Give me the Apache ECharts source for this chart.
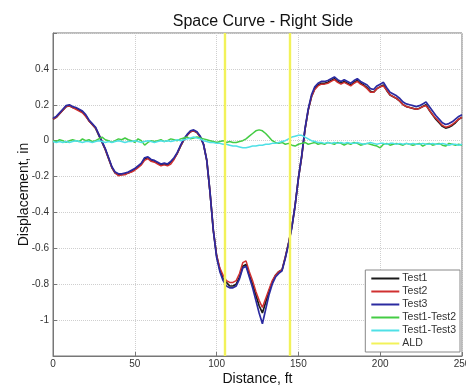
<!DOCTYPE html>
<html><head><meta charset="utf-8">
<script src="https://cdn.jsdelivr.net/npm/echarts@6/dist/echarts.min.js"></script>
<style>html,body{margin:0;padding:0;background:#fff}#c{width:466px;height:385px}</style>
</head><body><div id="c"></div>
<script>
const distance = [0,2,4,6,8,10,12,14,16,18,20,22,24,26,28,30,32,34,36,38,40,42,44,46,48,50,52,54,56,58,60,62,64,66,68,70,72,74,76,78,80,82,84,86,88,90,92,94,96,98,100,102,104,106,108,110,112,114,116,118,120,122,124,126,128,130,132,134,136,138,140,142,144,146,148,150,152,154,156,158,160,162,164,166,168,170,172,174,176,178,180,182,184,186,188,190,192,194,196,198,200,202,204,206,208,210,212,214,216,218,220,222,224,226,228,230,232,234,236,238,240,242,244,246,248,250];

const test1 = [0.12,0.13,0.15,0.17,0.19,0.195,0.185,0.18,0.17,0.16,0.14,0.11,0.09,0.07,0.03,-0.01,-0.05,-0.10,-0.15,-0.18,-0.19,-0.19,-0.185,-0.18,-0.17,-0.16,-0.145,-0.13,-0.10,-0.095,-0.11,-0.115,-0.125,-0.135,-0.13,-0.135,-0.12,-0.10,-0.07,-0.03,0.005,0.03,0.05,0.055,0.045,0.02,-0.02,-0.11,-0.29,-0.50,-0.64,-0.72,-0.77,-0.79,-0.81,-0.81,-0.80,-0.76,-0.70,-0.69,-0.75,-0.80,-0.86,-0.92,-0.96,-0.90,-0.84,-0.79,-0.75,-0.73,-0.72,-0.65,-0.57,-0.48,-0.36,-0.21,-0.09,0.06,0.17,0.245,0.29,0.31,0.32,0.32,0.325,0.335,0.345,0.33,0.32,0.33,0.32,0.31,0.325,0.335,0.32,0.31,0.295,0.275,0.27,0.29,0.30,0.31,0.28,0.255,0.245,0.235,0.22,0.20,0.19,0.185,0.18,0.175,0.18,0.19,0.20,0.17,0.145,0.12,0.10,0.08,0.07,0.075,0.085,0.10,0.12,0.13];

const test2 = [0.12,0.13,0.15,0.17,0.19,0.195,0.185,0.175,0.165,0.155,0.135,0.11,0.09,0.07,0.035,-0.005,-0.05,-0.10,-0.15,-0.18,-0.195,-0.19,-0.19,-0.18,-0.175,-0.165,-0.15,-0.135,-0.11,-0.10,-0.115,-0.12,-0.13,-0.14,-0.135,-0.14,-0.13,-0.105,-0.07,-0.03,0.005,0.03,0.05,0.055,0.045,0.02,-0.02,-0.11,-0.29,-0.50,-0.64,-0.71,-0.75,-0.78,-0.79,-0.79,-0.78,-0.74,-0.68,-0.67,-0.73,-0.78,-0.84,-0.89,-0.93,-0.88,-0.83,-0.78,-0.75,-0.73,-0.72,-0.65,-0.57,-0.48,-0.36,-0.21,-0.09,0.06,0.17,0.245,0.285,0.305,0.315,0.315,0.32,0.33,0.34,0.325,0.315,0.325,0.315,0.305,0.32,0.33,0.315,0.305,0.29,0.27,0.27,0.29,0.30,0.305,0.28,0.255,0.245,0.235,0.22,0.20,0.19,0.185,0.18,0.175,0.18,0.19,0.195,0.17,0.145,0.125,0.105,0.085,0.075,0.08,0.09,0.105,0.12,0.13];

const test3 = [0.125,0.135,0.155,0.175,0.195,0.2,0.19,0.185,0.175,0.165,0.145,0.115,0.095,0.075,0.035,-0.005,-0.045,-0.095,-0.145,-0.175,-0.185,-0.185,-0.18,-0.175,-0.165,-0.155,-0.14,-0.125,-0.095,-0.09,-0.105,-0.11,-0.12,-0.13,-0.125,-0.13,-0.115,-0.095,-0.065,-0.025,0.01,0.035,0.055,0.06,0.05,0.025,-0.02,-0.11,-0.29,-0.50,-0.65,-0.73,-0.78,-0.81,-0.82,-0.82,-0.81,-0.77,-0.71,-0.70,-0.76,-0.82,-0.89,-0.96,-1.02,-0.94,-0.86,-0.80,-0.76,-0.74,-0.725,-0.655,-0.575,-0.485,-0.36,-0.21,-0.085,0.065,0.175,0.255,0.30,0.32,0.33,0.33,0.335,0.345,0.355,0.34,0.33,0.34,0.33,0.32,0.335,0.345,0.33,0.32,0.31,0.29,0.285,0.305,0.315,0.325,0.295,0.27,0.26,0.25,0.235,0.215,0.205,0.20,0.195,0.19,0.195,0.205,0.215,0.19,0.165,0.14,0.12,0.10,0.09,0.095,0.105,0.12,0.135,0.145];

const diff12 = [0.0,-0.005,0.005,0.0,-0.01,0.0,0.005,0.0,-0.005,0.01,0.0,0.005,-0.005,0.0,0.01,0.02,0.005,0.0,-0.01,0.0,0.01,0.005,0.015,0.005,0.0,-0.01,0.01,0.0,-0.025,-0.01,0.0,-0.005,0.0,0.005,-0.005,0.0,0.01,0.005,0.0,0.01,0.015,0.02,0.01,0.015,0.02,0.015,0.01,0.005,0.0,-0.005,-0.01,-0.005,0.0,-0.01,-0.005,-0.01,-0.01,-0.005,0.0,0.01,0.025,0.04,0.055,0.06,0.055,0.04,0.02,0.0,-0.01,-0.015,-0.01,-0.02,-0.015,-0.025,-0.03,-0.02,-0.015,-0.01,-0.02,-0.015,-0.01,-0.02,-0.015,-0.02,-0.01,-0.015,-0.02,-0.01,-0.015,-0.025,-0.015,-0.02,-0.01,-0.015,-0.025,-0.02,-0.015,-0.02,-0.025,-0.03,-0.04,-0.02,-0.015,-0.025,-0.02,-0.015,-0.02,-0.025,-0.015,-0.02,-0.025,-0.02,-0.015,-0.03,-0.02,-0.015,-0.025,-0.02,-0.015,-0.025,-0.03,-0.015,-0.02,-0.025,-0.02,-0.025];

const diff13 = [-0.005,-0.01,-0.005,-0.01,-0.005,-0.01,-0.005,0.0,-0.005,-0.01,-0.005,-0.005,-0.01,-0.005,0.0,-0.005,-0.01,-0.005,-0.01,-0.005,0.0,-0.005,-0.01,-0.005,-0.005,0.0,-0.005,-0.01,-0.005,0.0,-0.005,-0.01,-0.005,0.0,-0.005,0.0,-0.005,0.0,0.005,0.0,0.005,0.01,0.015,0.02,0.015,0.01,0.0,-0.005,-0.01,-0.01,-0.015,-0.015,-0.02,-0.02,-0.025,-0.03,-0.03,-0.035,-0.04,-0.04,-0.035,-0.03,-0.03,-0.025,-0.025,-0.02,-0.02,-0.015,-0.015,-0.01,-0.005,0.0,0.01,0.02,0.025,0.03,0.03,0.02,0.01,0.0,-0.005,-0.01,-0.01,-0.015,-0.01,-0.015,-0.01,-0.015,-0.01,-0.015,-0.01,-0.015,-0.015,-0.01,-0.015,-0.02,-0.015,-0.01,-0.015,-0.02,-0.015,-0.015,-0.02,-0.015,-0.015,-0.02,-0.015,-0.02,-0.015,-0.02,-0.015,-0.02,-0.02,-0.015,-0.02,-0.02,-0.015,-0.02,-0.02,-0.015,-0.02,-0.025,-0.02,-0.02,-0.025,-0.02];

const aldPositions = [105, 145];
const xTicks = [0, 50, 100, 150, 200, 250];
const yTicks = [-1, -0.8, -0.6, -0.4, -0.2, 0, 0.2, 0.4];

function pts(arr){ return distance.map((d,i)=>[d, arr[i]]); }

const chart = echarts.init(document.getElementById('c'));
const font = 'Liberation Sans, Arial, sans-serif';
function lineSeries(name, arr, color, w){
  return {name:name, type:'line', data:pts(arr), showSymbol:false, symbol:'none', animation:false,
    lineStyle:{color:color, width:w}, itemStyle:{color:color}};
}
chart.setOption({
  animation:false,
  title:{text:'Space Curve - Right Side', left:258, textAlign:'center', top:9,
    textStyle:{fontFamily:font, fontSize:16, fontWeight:'normal', color:'#111'}},
  grid:{left:53, right:4, top:33, bottom:29, show:true, borderColor:'#777', borderWidth:1, outerBoundsMode:'none', containLabel:false},
  xAxis:{type:'value', min:0, max:250, interval:50, name:'Distance, ft', nameLocation:'middle', nameGap:16, nameMoveOverlap:false,
    nameTextStyle:{fontFamily:font, fontSize:14, color:'#111'},
    axisLine:{show:true, onZero:false, lineStyle:{color:'#777'}}, axisTick:{inside:true, length:4, lineStyle:{color:'#777'}},
    axisLabel:{fontFamily:font, fontSize:10, color:'#333', margin:3,
      formatter:v=> xTicks.includes(v) ? String(v) : ''},
    splitLine:{show:true, lineStyle:{type:'dotted', color:'#cfcfcf'}}},
  yAxis:{type:'value', min:-1.2, max:0.6, interval:0.2, name:'Displacement, in', nameLocation:'middle', nameGap:22, nameMoveOverlap:false,
    nameTextStyle:{fontFamily:font, fontSize:14, color:'#111'},
    axisLine:{show:true, onZero:false, lineStyle:{color:'#777'}}, axisTick:{inside:true, length:4, lineStyle:{color:'#777'}},
    axisLabel:{fontFamily:font, fontSize:10, color:'#333', margin:4,
      formatter:v=>{ const r=Math.round(v*10)/10; return yTicks.some(t=>Math.abs(t-r)<1e-9) ? String(r) : ''; }},
    splitLine:{show:true, lineStyle:{type:'dotted', color:'#cfcfcf'}}},
  legend:{right:6, bottom:33, orient:'vertical', backgroundColor:'#fff', borderColor:'#888', borderWidth:1,
    padding:[3,4,3,6], itemGap:2, itemWidth:28, itemHeight:2, icon:'rect',
    textStyle:{fontFamily:font, fontSize:10.5, color:'#333', padding:[0,0,0,-2]},
    data:['Test1','Test2','Test3','Test1-Test2','Test1-Test3','ALD']},
  series:[
    lineSeries('Test1', test1, '#1a1a1a', 1.7),
    lineSeries('Test2', test2, '#d03030', 1.5),
    lineSeries('Test3', test3, '#2b2aa0', 1.7),
    lineSeries('Test1-Test2', diff12, '#44cc44', 1.5),
    lineSeries('Test1-Test3', diff13, '#4fe0e6', 1.5),
    {name:'ALD', type:'line', data:[], showSymbol:false, itemStyle:{color:'#f2f25a'}, lineStyle:{color:'#f2f25a', width:2},
      markLine:{silent:true, symbol:['none','none'], label:{show:false}, animation:false,
        lineStyle:{color:'#f2f25a', width:2.4, type:'solid'},
        data: aldPositions.map(p=>({xAxis:p}))}}
  ]
});
</script></body></html>
